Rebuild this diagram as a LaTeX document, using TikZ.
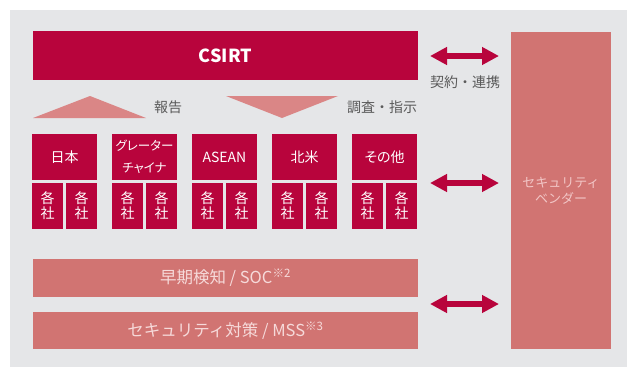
\documentclass[tikz,border=0pt]{standalone}
\usepackage{fontspec}
\setmainfont{Noto Sans CJK JP}
\newfontfamily\jpprop[RawFeature=+palt]{Noto Sans CJK JP}
\usetikzlibrary{arrows.meta}

\definecolor{crimson}{HTML}{B8043C}
\definecolor{salmon}{HTML}{D17472}
\definecolor{rose}{HTML}{DA8686}
\definecolor{panel}{HTML}{E5E6E8}
\definecolor{labelgray}{HTML}{5A5A5A}
\definecolor{paletext}{HTML}{F6DADA}
\definecolor{vendortext}{HTML}{F2C6C6}

\tikzset{
    region/.style={fill=crimson, text=white, inner sep=0pt, align=center,
        minimum width=65pt, minimum height=46pt,
        font=\jpprop\fontsize{#1}{22}\selectfont},
    region/.default=14,
    company/.style={fill=crimson, text=white, inner sep=0pt, align=center,
        minimum width=31pt, minimum height=46pt, font=\fontsize{14}{15}\selectfont},
    bar/.style={fill=salmon, text=paletext, inner sep=0pt,
        minimum width=385pt, font=\fontsize{16.5}{20}\selectfont},
    note/.style={text=labelgray, inner sep=0pt, font=\fontsize{14}{16}\selectfont},
    duo/.style={crimson, line width=6pt,
        {Triangle[length=17pt,width=17pt]}-{Triangle[length=17pt,width=17pt]}}
}

\begin{document}
\begin{tikzpicture}[x=1pt,y=-1pt]

    % Frame of the picture
    \useasboundingbox (0,0) rectangle (627,367);
    \fill[white] (0,0) rectangle (627,367);
    \fill[panel] (10,10) rectangle (627,367);

    % CSIRT on top
    \node[fill=crimson, text=white, minimum width=385pt, minimum height=49pt,
        inner sep=0pt, font=\fontsize{18}{20}\selectfont\bfseries]
        (csirt) at (225.5,55.5) {CSIRT};

    % Security vendor on the right
    \node[fill=salmon, text=vendortext, minimum width=100pt, minimum height=317pt,
        inner sep=0pt, align=center, font=\fontsize{13}{16}\selectfont]
        (vendor) at (561,190.5) {セキュリティ\\ベンダー};

    % Report / instruction triangles
    \fill[rose] (33,118) -- (90,96) -- (146,118) -- cycle;
    \fill[rose] (226,96) -- (338,96) -- (282,118) -- cycle;
    \node[note] (report) at (168,107) {報告};
    \node[note] (order) at (382,107) {調査・指示};

    % Regions, each with two companies below
    \foreach \x/\name/\fs/\txt in {32/jp/14/日本, 112/gc/12.5/グレーター\\チャイナ,
        192/asean/14/ASEAN, 272/na/14/北米, 352/other/14/その他} {
        \node[region=\fs] (\name) at (\x+32.5,157) {\txt};
        \node[company] (\name-a) at (\x+15.5,206) {各\\社};
        \node[company] (\name-b) at (\x+49.5,206) {各\\社};
    }

    % Services at the bottom
    \node[bar, minimum height=38pt] (soc) at (225.5,278)
        {早期検知 / SOC\textsuperscript{※2}};
    \node[bar, minimum height=37pt] (mss) at (225.5,330.5)
        {セキュリティ対策 / MSS\textsuperscript{※3}};

    % Links to the vendor
    \coordinate (topL) at (430,56);
    \coordinate (topR) at (499,56);
    \coordinate (midL) at (430,183);
    \coordinate (midR) at (499,183);
    \coordinate (lowL) at (430,304);
    \coordinate (lowR) at (499,304);
    \draw[duo] (topL) -- (topR);
    \draw[duo] (midL) -- (midR);
    \draw[duo] (lowL) -- (lowR);
    \node[note] (contract) at (465,82) {契約・連携};

\end{tikzpicture}
\end{document}
